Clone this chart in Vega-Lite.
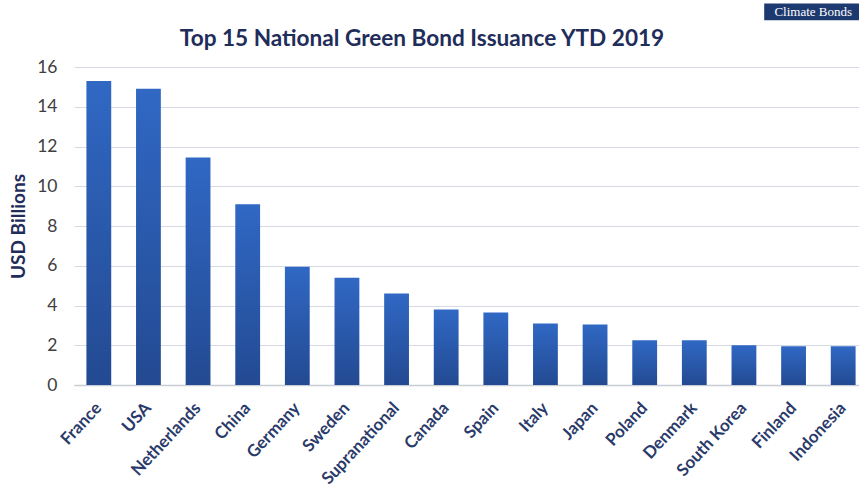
{
  "$schema": "https://vega.github.io/schema/vega-lite/v6.json",
  "autosize": {"type": "none"},
  "padding": {"left": 74, "top": 67, "right": 0, "bottom": 114},
  "width": 794,
  "height": 318,
  "background": "white",
  "title": {
    "text": "Top 15 National Green Bond Issuance YTD 2019",
    "font": "Lato",
    "fontSize": 22.6,
    "fontWeight": "bold",
    "color": "#1f2d5a",
    "anchor": "middle",
    "frame": "group",
    "dx": -49,
    "offset": -47
  },
  "config": {
    "view": {"stroke": null},
    "axis": {"labelFont": "Lato", "titleFont": "Lato"}
  },
  "resolve": {"axis": {"x": "independent", "y": "independent"}},
  "data": {
    "values": [
      {"country": "France", "value": 15.3},
      {"country": "USA", "value": 14.9},
      {"country": "Netherlands", "value": 11.45},
      {"country": "China", "value": 9.1},
      {"country": "Germany", "value": 5.95},
      {"country": "Sweden", "value": 5.4},
      {"country": "Supranational", "value": 4.6},
      {"country": "Canada", "value": 3.8},
      {"country": "Spain", "value": 3.65},
      {"country": "Italy", "value": 3.1},
      {"country": "Japan", "value": 3.05},
      {"country": "Poland", "value": 2.25},
      {"country": "Denmark", "value": 2.25},
      {"country": "South Korea", "value": 2.0},
      {"country": "Finland", "value": 1.95},
      {"country": "Indonesia", "value": 1.95}
    ]
  },
  "layer": [
    {
      "mark": {
        "type": "bar",
        "color": {
          "gradient": "linear",
          "x1": 0, "y1": 0, "x2": 0, "y2": 1,
          "stops": [
            {"offset": 0, "color": "#3068c4"},
            {"offset": 1, "color": "#234a92"}
          ]
        }
      },
      "encoding": {
        "x": {
          "field": "country",
          "type": "nominal",
          "sort": null,
          "scale": {"paddingInner": 0.5, "paddingOuter": 0.25},
          "axis": {
            "title": null,
            "labelAngle": -47,
            "labelFontSize": 17,
            "labelFontWeight": "bold",
            "labelColor": "#2a3a6a",
            "labelPadding": 20,
            "ticks": false,
            "domain": true,
            "domainColor": "#c8ccd4",
            "domainWidth": 1.5
          }
        },
        "y": {
          "field": "value",
          "type": "quantitative",
          "scale": {"domain": [0, 16]},
          "axis": {
            "title": "USD Billions",
            "titleFontSize": 19,
            "titleFontWeight": "bold",
            "titleColor": "#1f2d5a",
            "titlePadding": 8,
            "values": [0, 2, 4, 6, 8, 10, 12, 14, 16],
            "labelOverlap": false,
            "labelFontSize": 17.5,
            "labelColor": "#404040",
            "labelPadding": 17,
            "ticks": false,
            "domain": false,
            "grid": true,
            "gridColor": "#d5dae4",
            "gridWidth": 1.2
          }
        }
      }
    },
    {
      "data": {"values": [{"label": "Climate Bonds"}]},
      "mark": {"type": "bar", "color": "#1d3a70", "width": 98, "xOffset": -30},
      "encoding": {
        "x": {"datum": "Indonesia", "type": "nominal", "axis": null},
        "y": {"datum": 19.2, "type": "quantitative", "axis": null},
        "y2": {"datum": 18.35}
      }
    },
    {
      "data": {"values": [{"label": "Climate Bonds"}]},
      "mark": {"type": "text", "color": "white", "font": "Liberation Serif", "fontSize": 13, "dx": -30, "baseline": "middle"},
      "encoding": {
        "x": {"datum": "Indonesia", "type": "nominal", "axis": null},
        "y": {"datum": 18.78, "type": "quantitative", "axis": null},
        "text": {"field": "label"}
      }
    }
  ]
}
